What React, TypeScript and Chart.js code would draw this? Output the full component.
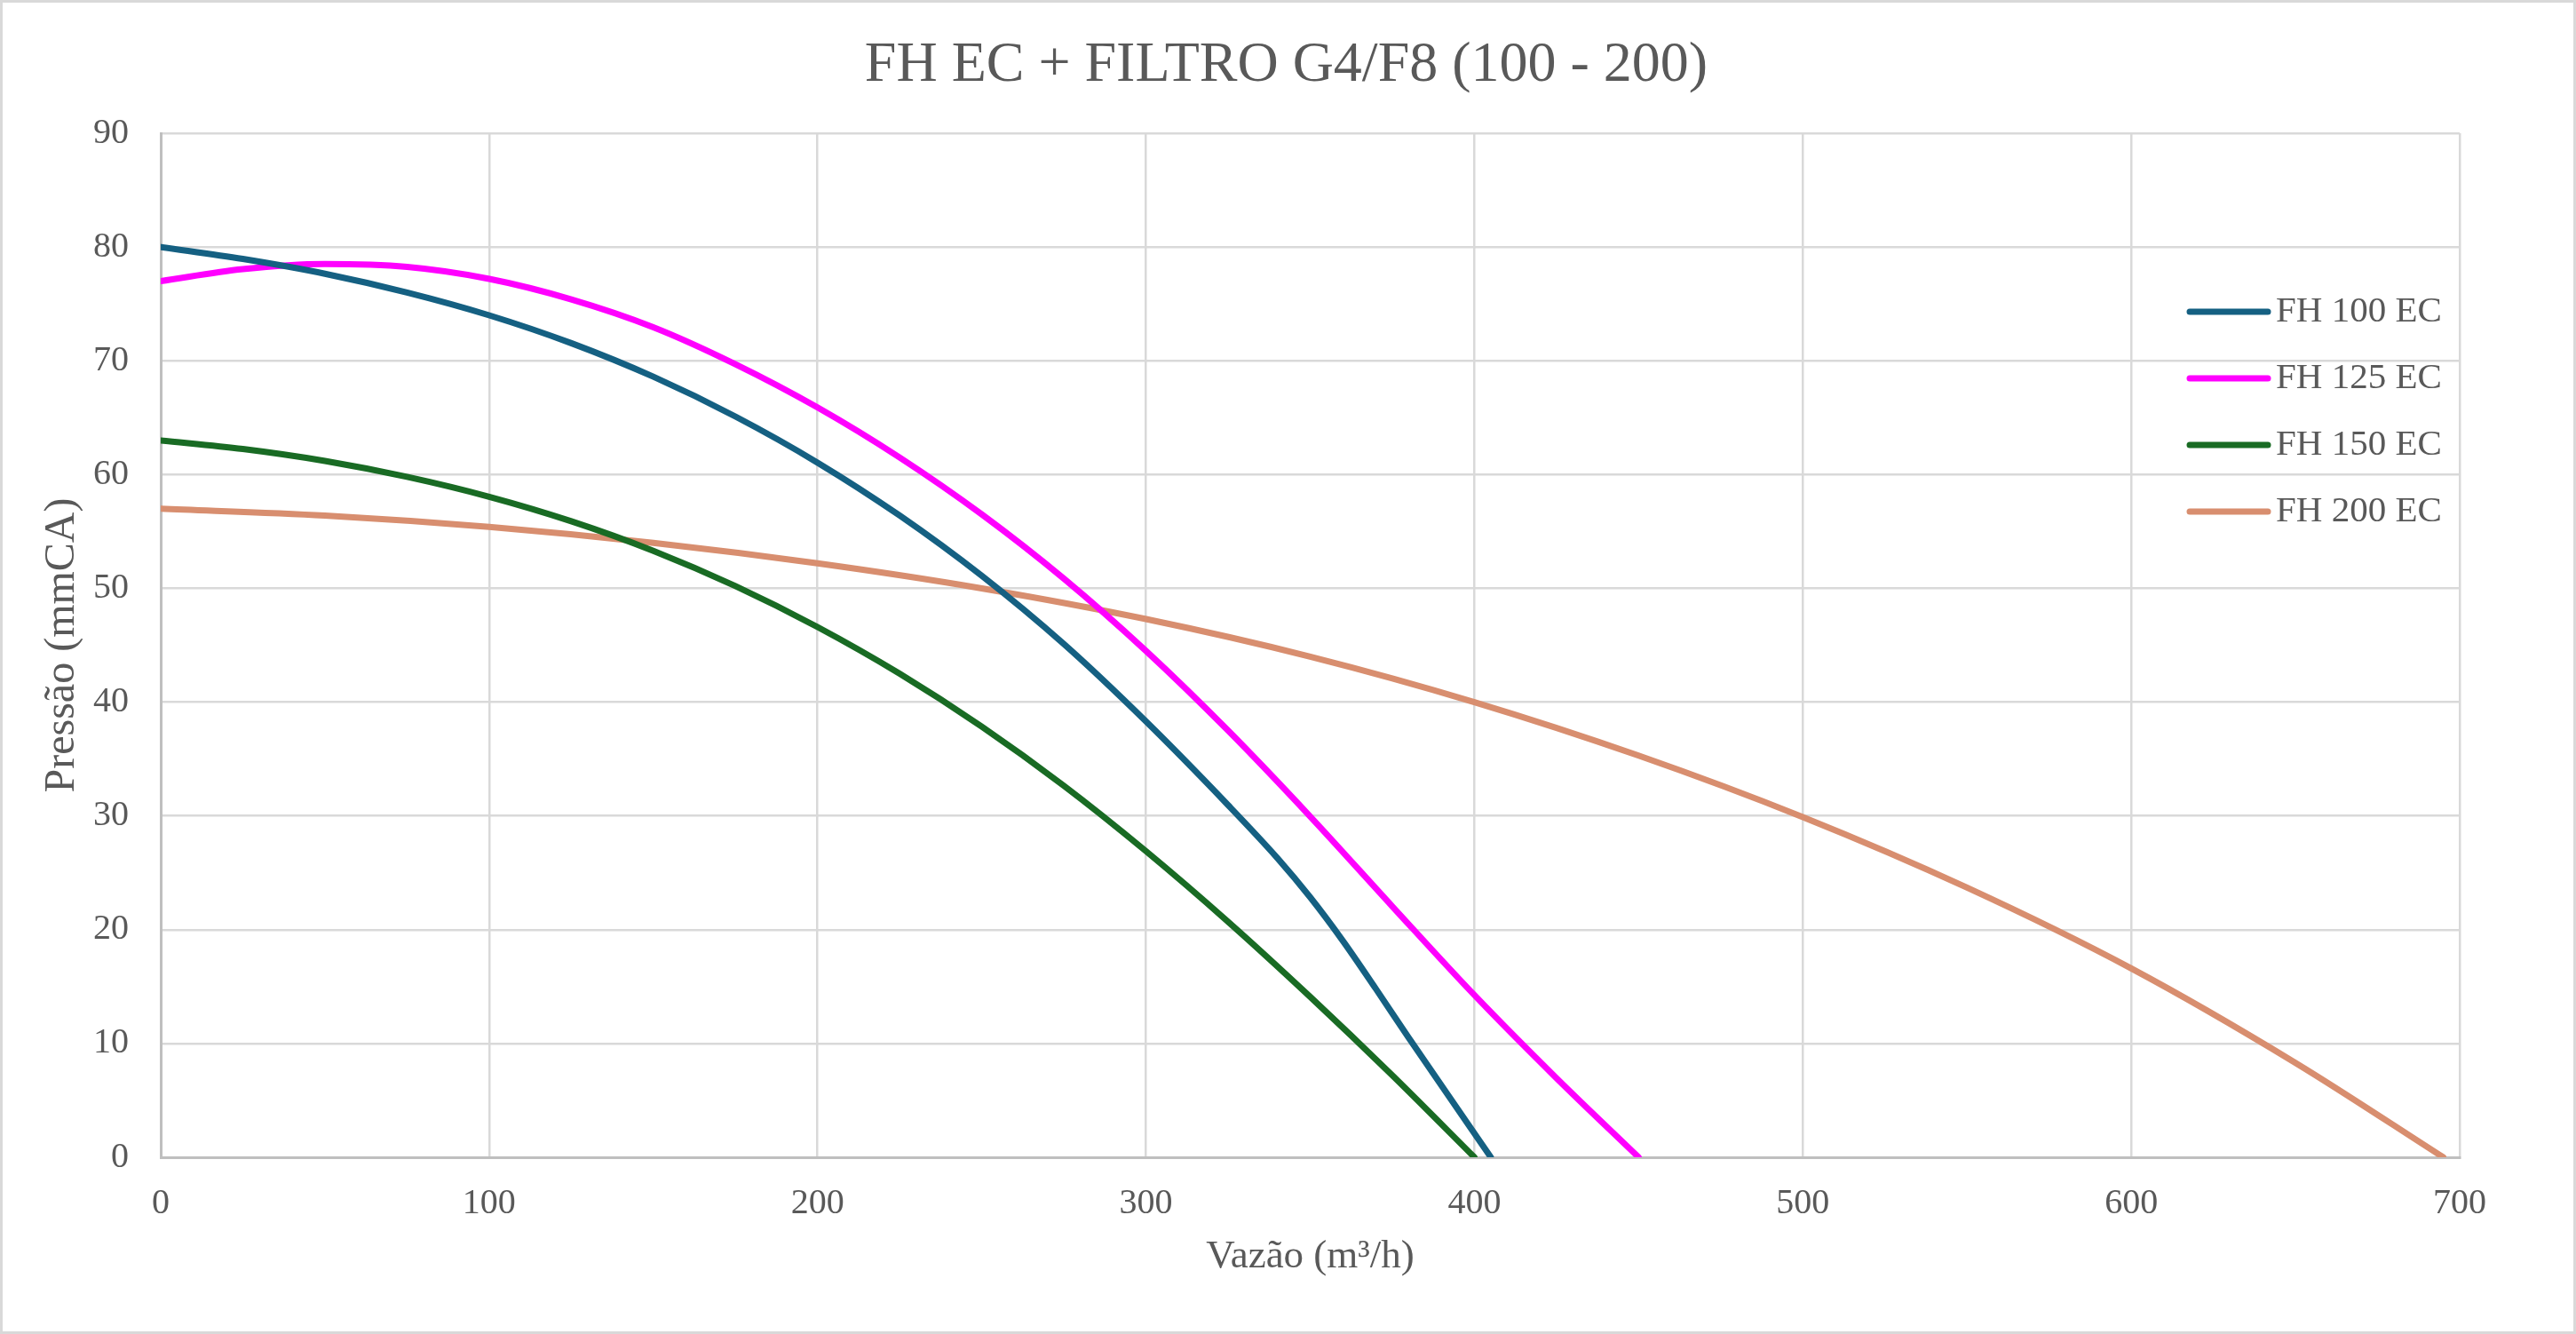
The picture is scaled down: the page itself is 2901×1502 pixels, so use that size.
import {useEffect, useRef} from "react";
import {Chart, registerables} from "chart.js";

Chart.register(...registerables);

const chartTitle = "FH EC + FILTRO G4/F8 (100 - 200)";
const xTitle = "Vazão (m³/h)";
const yTitle = "Pressão (mmCA)";

// FH 100 EC
const flowFH100 = [0, 25, 50, 75, 100, 125, 150, 175, 200, 225, 250, 275, 300, 325, 340, 350, 360, 370, 380, 405];
const pressureFH100 = [80.0, 78.95, 77.65, 76.0, 74.0, 71.55, 68.6, 65.1, 61.05, 56.4, 51.1, 45.1, 38.3, 30.95, 26.3, 22.85, 19.0, 14.8, 10.5, 0];

// FH 125 EC
const flowFH125 = [0, 25, 50, 75, 100, 125, 150, 175, 200, 225, 250, 275, 300, 325, 350, 375, 400, 425, 450];
const pressureFH125 = [77.0, 78.05, 78.5, 78.25, 77.2, 75.4, 72.95, 69.7, 65.9, 61.5, 56.5, 50.85, 44.5, 37.5, 29.95, 22.05, 14.25, 6.95, 0];

// FH 150 EC
const flowFH150 = [0, 25, 50, 75, 100, 125, 150, 175, 200, 225, 250, 275, 300, 325, 350, 375, 400];
const pressureFH150 = [63.0, 62.25, 61.2, 59.8, 58.05, 55.9, 53.3, 50.2, 46.6, 42.5, 37.85, 32.65, 26.9, 20.7, 14.1, 7.2, 0];

// FH 200 EC
const flowFH200 = [0, 50, 100, 150, 200, 250, 300, 350, 400, 450, 500, 550, 600, 650, 695];
const pressureFH200 = [57.0, 56.4, 55.4, 54.0, 52.2, 50.0, 47.3, 44.0, 40.0, 35.3, 29.9, 23.7, 16.6, 8.3, 0];

const seriesNames = ["FH 100 EC", "FH 125 EC", "FH 150 EC", "FH 200 EC"];
const seriesColors = ["#156082", "#FF00FF", "#196B24", "#D88E6F"];
const seriesFlows = [flowFH100, flowFH125, flowFH150, flowFH200];
const seriesPressures = [pressureFH100, pressureFH125, pressureFH150, pressureFH200];

const FONT = '"Liberation Serif", "Times New Roman", serif';
const TEXT = "#595959";

// title centred on the whole canvas, legend inside the plot at top right (as in the Excel original)
const titleAndLegend = {
    id: "titleAndLegend",
    afterDraw(chart) {
        const ctx = chart.ctx;
        ctx.save();
        ctx.fillStyle = TEXT;
        ctx.font = `64px ${FONT}`;
        ctx.textAlign = "center";
        ctx.textBaseline = "middle";
        ctx.fillText(chartTitle, chart.width / 2 - 2, 71);

        ctx.font = `41px ${FONT}`;
        ctx.textAlign = "left";
        chart.data.datasets.forEach((ds, i) => {
            const y = 348 + i * 75;
            ctx.strokeStyle = ds.borderColor;
            ctx.lineWidth = 7;
            ctx.lineCap = "round";
            ctx.beginPath();
            ctx.moveTo(2463, y);
            ctx.lineTo(2551, y);
            ctx.stroke();
            ctx.fillStyle = TEXT;
            ctx.fillText(ds.label, 2560, y);
        });
        ctx.restore();
    },
};

export default function App() {
    const chartRef = useRef(null);
    const chartInstance = useRef(null);

    useEffect(() => {
        document.body.style.margin = "0";
        const ctx = chartRef.current?.getContext("2d");
        chartInstance.current = new Chart(ctx, {
            type: "line",
            data: {
                datasets: seriesNames.map((name, i) => ({
                    label: name,
                    data: seriesFlows[i].map((x, j) => ({x, y: seriesPressures[i][j]})),
                    borderColor: seriesColors[i],
                    backgroundColor: seriesColors[i],
                    borderWidth: 7,
                    borderCapStyle: "round",
                    borderJoinStyle: "round",
                    pointRadius: 0,
                    fill: false,
                    cubicInterpolationMode: "monotone",
                })),
            },
            plugins: [titleAndLegend],
            options: {
                responsive: false,
                animation: false,
                devicePixelRatio: 1,
                layout: {padding: {left: 0, right: 128, top: 147, bottom: 0}},
                plugins: {
                    legend: {display: false},
                    tooltip: {enabled: false},
                    title: {display: false},
                },
                scales: {
                    x: {
                        type: "linear",
                        min: 0,
                        max: 700,
                        ticks: {stepSize: 100, color: TEXT, padding: 28, font: {family: FONT, size: 40}},
                        grid: {color: "#D9D9D9", lineWidth: 2.5, drawTicks: false},
                        border: {color: "#BFBFBF", width: 3},
                        title: {
                            display: true,
                            text: xTitle,
                            color: TEXT,
                            font: {family: FONT, size: 45},
                            padding: {top: 0, bottom: 57},
                        },
                        afterFit: (scale) => {
                            scale.height = 196;
                        },
                    },
                    y: {
                        min: 0,
                        max: 90,
                        ticks: {stepSize: 10, color: TEXT, padding: 36, font: {family: FONT, size: 40}},
                        grid: {color: "#D9D9D9", lineWidth: 2.5, drawTicks: false},
                        border: {color: "#BFBFBF", width: 3},
                        title: {
                            display: true,
                            text: yTitle,
                            color: TEXT,
                            font: {family: FONT, size: 48},
                            padding: {top: 39, bottom: 0},
                        },
                        afterFit: (scale) => {
                            scale.width = 178;
                        },
                    },
                },
            },
        });

        return () => {
            chartInstance.current.destroy();
        };
    }, []);

    return (
        <div style={{width: 2901, height: 1502, boxSizing: "border-box", border: "3px solid #D9D9D9", background: "#fff"}}>
            <canvas ref={chartRef} width={2895} height={1496} style={{display: "block"}}/>
        </div>
    );
}
